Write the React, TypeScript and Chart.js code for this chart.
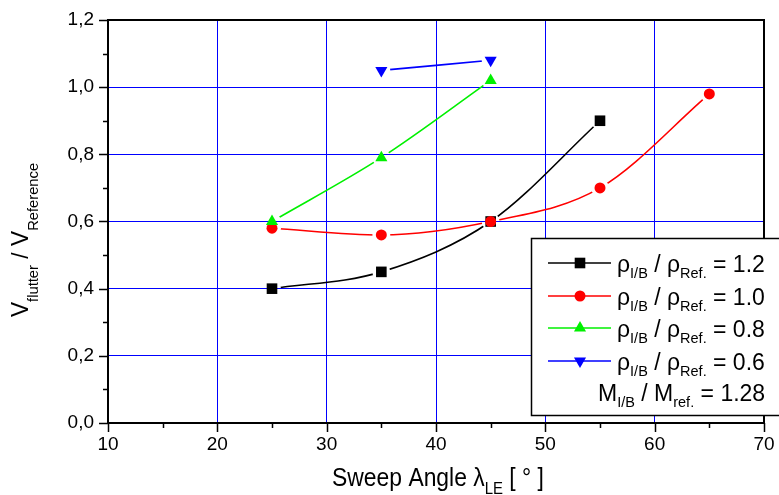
import React, { useEffect, useRef } from 'react';
import { Chart, registerables } from 'chart.js';

Chart.register(...registerables);

const FONT = '"Liberation Sans", Arial, Helvetica, sans-serif';

// ---- data ----
const anglesA = [25, 35, 45, 55];
const ratioA = [0.4, 0.45, 0.6, 0.9]; // rho 1.2
const anglesB = [25, 35, 45, 55, 65];
const ratioB = [0.58, 0.56, 0.6, 0.7, 0.98]; // rho 1.0
const anglesC = [25, 35, 45];
const ratioC = [0.6, 0.79, 1.02]; // rho 0.8
const anglesD = [35, 45];
const ratioD = [1.05, 1.08]; // rho 0.6

const densityLabels = ['1.2', '1.0', '0.8', '0.6'];
const massLabel = '1.28';
const seriesColors = ['#000000', '#ff0000', '#00f000', '#0000ff'];
const seriesStyles = ['rect', 'circle', 'triangle', 'triangle'];
const seriesRotation = [0, 0, 0, 180];
const seriesRadius = [7.5, 5.5, 7, 7];

const xMin = 10, xMax = 70, xStep = 10, xMinor = 5;
const yMin = 0, yMax = 1.2, yStep = 0.2, yMinor = 0.1;

type Part = { t: string; sub?: boolean };

function drawRich(ctx: CanvasRenderingContext2D, parts: Part[], x: number, y: number, size: number, subSize: number, subShift: number, align: 'left' | 'center', sx = 1) {
  const widths = parts.map((p) => {
    ctx.font = `${p.sub ? subSize : size}px ${FONT}`;
    return ctx.measureText(p.t).width;
  });
  const total = widths.reduce((a, b) => a + b, 0);
  ctx.save();
  ctx.translate(x, y);
  ctx.scale(sx, 1);
  let cx = align === 'center' ? -total / 2 : 0;
  ctx.textAlign = 'left';
  ctx.textBaseline = 'alphabetic';
  parts.forEach((p, i) => {
    ctx.font = `${p.sub ? subSize : size}px ${FONT}`;
    ctx.fillText(p.t, cx, p.sub ? subShift : 0);
    cx += widths[i];
  });
  ctx.restore();
}

const gapPlugin = {
  id: 'markerGaps',
  beforeDatasetDraw(chart: any, args: any) {
    const ds = chart.data.datasets[args.index];
    if (!ds.gapRadius) return;
    const ctx = chart.ctx;
    const xs = chart.scales.x;
    const ys = chart.scales.y;
    ctx.save();
    ctx.beginPath();
    ctx.rect(0, 0, chart.width, chart.height);
    ds.data.forEach((p: any) => {
      const px = xs.getPixelForValue(p.x);
      const py = ys.getPixelForValue(p.y);
      ctx.moveTo(px + ds.gapRadius, py);
      ctx.arc(px, py, ds.gapRadius, 0, Math.PI * 2);
    });
    ctx.clip('evenodd');
  },
  afterDatasetDraw(chart: any, args: any) {
    const ds = chart.data.datasets[args.index];
    if (!ds.gapRadius) return;
    chart.ctx.restore();
  },
};

function drawMarker(ctx: CanvasRenderingContext2D, style: string, x: number, y: number, r: number, rot: number) {
  ctx.beginPath();
  if (style === 'circle') {
    ctx.arc(x, y, r, 0, Math.PI * 2);
  } else if (style === 'rect') {
    const s = r * Math.SQRT1_2;
    ctx.rect(x - s, y - s, 2 * s, 2 * s);
  } else {
    let a = (rot * Math.PI) / 180;
    for (let k = 0; k < 3; k++) {
      const px = x + Math.sin(a) * r;
      const py = y - Math.cos(a) * r;
      if (k === 0) ctx.moveTo(px, py);
      else ctx.lineTo(px, py);
      a += (2 * Math.PI) / 3;
    }
    ctx.closePath();
  }
  ctx.fill();
}

const decorPlugin = {
  id: 'decor',
  afterDraw(chart: any) {
    const ctx: CanvasRenderingContext2D = chart.ctx;
    const { left, right, top, bottom } = chart.chartArea;
    const xs = chart.scales.x;
    const ys = chart.scales.y;
    ctx.save();
    ctx.strokeStyle = '#000';
    // frame
    ctx.lineWidth = 2;
    ctx.beginPath();
    ctx.moveTo(left - 1, top);
    ctx.lineTo(right, top);
    ctx.lineTo(right, bottom);
    ctx.stroke();
    // ticks
    ctx.lineWidth = 1.5;
    ctx.beginPath();
    const ny = Math.round((yMax - yMin) / yMinor);
    for (let i = 0; i <= ny; i++) {
      const v = yMin + i * yMinor;
      const py = Math.round(ys.getPixelForValue(v)) + 0.5;
      const len = i % 2 === 0 ? 9 : 5;
      ctx.moveTo(left - len, py);
      ctx.lineTo(left, py);
    }
    const nx = Math.round((xMax - xMin) / xMinor);
    for (let i = 0; i <= nx; i++) {
      const v = xMin + i * xMinor;
      const px = Math.round(xs.getPixelForValue(v)) + 0.5;
      const len = i % 2 === 0 ? 9 : 5;
      ctx.moveTo(px, bottom);
      ctx.lineTo(px, bottom + len);
    }
    ctx.stroke();

    ctx.fillStyle = '#000';
    // x title
    drawRich(ctx, [{ t: 'Sweep Angle \u03bb' }, { t: 'LE', sub: true }, { t: ' [ \u00b0 ]' }], (left + right) / 2 + 2, 486, 26, 17, 8, 'center', 0.88);
    // y title
    ctx.save();
    ctx.translate(28, 240);
    ctx.rotate(-Math.PI / 2);
    drawRich(ctx, [{ t: 'V' }, { t: 'flutter', sub: true }, { t: ' / V' }, { t: 'Reference', sub: true }], 0, 0, 24, 15.5, 10, 'center', 0.95);
    ctx.restore();

    // legend
    const bx = 531, by = 238, bw = 260, bh = 177;
    ctx.fillStyle = '#fff';
    ctx.fillRect(bx, by, bw, bh);
    ctx.strokeStyle = '#000';
    ctx.lineWidth = 1.5;
    ctx.strokeRect(bx + 0.5, by + 0.5, bw, bh);
    const rowY = [263, 296, 328, 361];
    densityLabels.forEach((lab, i) => {
      const cy = rowY[i];
      ctx.strokeStyle = seriesColors[i];
      ctx.lineWidth = 1.5;
      ctx.beginPath();
      ctx.moveTo(548, cy);
      ctx.lineTo(611, cy);
      ctx.stroke();
      ctx.fillStyle = seriesColors[i];
      drawMarker(ctx, seriesStyles[i], 580, cy, seriesRadius[i], seriesRotation[i]);
      ctx.fillStyle = '#000';
      drawRich(ctx, [{ t: '\u03c1' }, { t: 'I/B', sub: true }, { t: ' / \u03c1' }, { t: 'Ref.', sub: true }, { t: ' = ' + lab }], 617, cy + 9, 23, 14.5, 6, 'left');
    });
    ctx.fillStyle = '#000';
    drawRich(ctx, [{ t: 'M' }, { t: 'I/B', sub: true }, { t: ' / M' }, { t: 'ref.', sub: true }, { t: ' = ' + massLabel }], 598, 401, 23, 14.5, 6, 'left');
    ctx.restore();
  },
};

function toPts(xs: number[], ys: number[]) {
  return xs.map((x, i) => ({ x, y: ys[i] }));
}

export default function App() {
  const ref = useRef<HTMLCanvasElement | null>(null);
  useEffect(() => {
    if (!ref.current) return;
    const series = [
      toPts(anglesA, ratioA),
      toPts(anglesB, ratioB),
      toPts(anglesC, ratioC),
      toPts(anglesD, ratioD),
    ];
    const datasets: any[] = [];
    series.forEach((pts, i) => {
      datasets.push({
        label: 'line' + i,
        data: pts,
        borderColor: seriesColors[i],
        borderWidth: 1.6,
        showLine: true,
        pointRadius: 0,
        cubicInterpolationMode: 'monotone',
        fill: false,
        gapRadius: 9,
        order: 8 - i * 2,
      });
      datasets.push({
        label: 'pts' + i,
        data: pts,
        showLine: false,
        pointStyle: seriesStyles[i],
        rotation: seriesRotation[i],
        pointRadius: seriesRadius[i],
        pointBackgroundColor: seriesColors[i],
        pointBorderColor: seriesColors[i],
        pointBorderWidth: 0,
        order: 7 - i * 2,
      });
    });
    const chart = new Chart(ref.current, {
      type: 'scatter',
      data: { datasets },
      options: {
        animation: false,
        responsive: false,
        devicePixelRatio: 1,
        layout: { padding: { top: 20, right: 15, left: 0, bottom: 0 } },
        plugins: { legend: { display: false }, tooltip: { enabled: false } },
        scales: {
          x: {
            type: 'linear',
            min: xMin,
            max: xMax,
            afterFit: (s: any) => { s.height = 72; s.paddingLeft = 0; s.paddingRight = 0; },
            ticks: { stepSize: xStep, color: '#000', padding: 10, font: { family: FONT, size: 19 } },
            grid: { color: '#0000ff', lineWidth: 1, drawTicks: false },
            border: { color: '#000', width: 2 },
          },
          y: {
            type: 'linear',
            min: yMin,
            max: yMax,
            afterFit: (s: any) => { s.width = 108; s.paddingTop = 0; s.paddingBottom = 0; },
            ticks: {
              stepSize: yStep,
              color: '#000',
              padding: 14,
              font: { family: FONT, size: 19 },
              callback: (v: any) => Number(v).toFixed(1).replace('.', ','),
            },
            grid: { color: '#0000ff', lineWidth: 1, drawTicks: false },
            border: { color: '#000', width: 2 },
          },
        },
      } as any,
      plugins: [gapPlugin, decorPlugin],
    });
    return () => chart.destroy();
  }, []);
  return (
    <div style={{ position: 'fixed', left: 0, top: 0, width: 779, height: 495, background: '#fff' }}>
      <canvas ref={ref} width={779} height={495} style={{ display: 'block' }} />
    </div>
  );
}
